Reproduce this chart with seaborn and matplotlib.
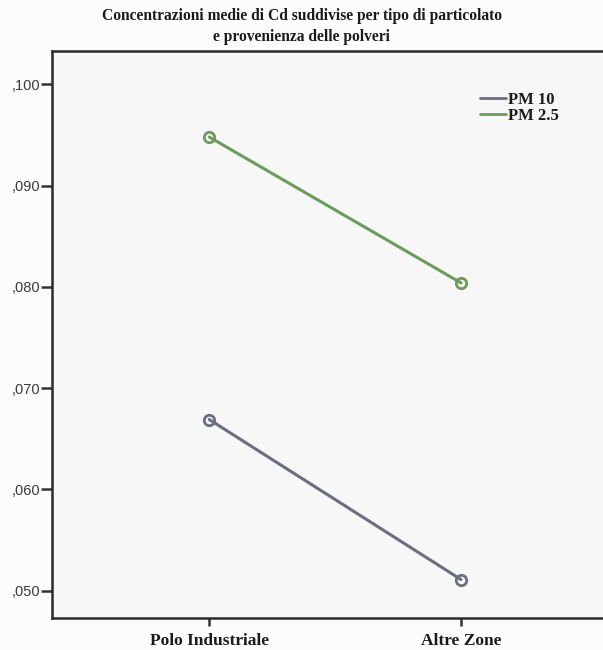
import matplotlib
matplotlib.use("Agg")
import matplotlib.pyplot as plt
from matplotlib.lines import Line2D
from matplotlib.ticker import FuncFormatter
import seaborn as sns
import pandas as pd

# Mean Cd concentrations by particulate type and area of origin
zones = ["Polo Industriale", "Altre Zone"]
pm10 = [0.0669, 0.0511]
pm25 = [0.0948, 0.0804]
series = ["PM 10", "PM 2.5"]
colors = {"PM 10": "#6a6e82", "PM 2.5": "#6b9c5c"}
yticks = [0.050, 0.060, 0.070, 0.080, 0.090, 0.100]

df = pd.DataFrame({
    "zona": zones * 2,
    "cd": pm10 + pm25,
    "tipo": [series[0]] * len(zones) + [series[1]] * len(zones),
})

sns.set_style("white")
plt.rcParams["font.family"] = ["Liberation Serif", "DejaVu Serif"]

fig = plt.figure(figsize=(6.03, 6.5), dpi=100)
fig.patch.set_facecolor("#fcfcfc")
ax = fig.add_axes([52 / 603, 32 / 650, 560 / 603, 567 / 650])
ax.set_facecolor("#f7f7f8")

sns.lineplot(
    data=df, x="zona", y="cd", hue="tipo", palette=colors,
    marker="o", markersize=7.5, markerfacecolor="none",
    markeredgewidth=2.0, linewidth=2.2, legend=False, ax=ax,
    sort=False,
)
# open circles outlined in the series colour
for ln in ax.lines:
    ln.set_markeredgecolor(ln.get_color())

ax.set_xlim(-0.625, 1.6)
ax.set_ylim(0.0473, 0.1033)
ax.set_yticks(yticks)
ax.yaxis.set_major_formatter(
    FuncFormatter(lambda v, _: f"{v:.3f}".lstrip("0").replace(".", ","))
)
for lab in ax.get_yticklabels():
    lab.set_fontfamily("Liberation Sans")
    lab.set_fontsize(10.5)
    lab.set_color("#3a3a3a")
ax.tick_params(axis="y", length=8, width=1.8, color="#333333", pad=0.5, left=True)
ax.tick_params(axis="x", length=6, width=1.8, color="#333333", pad=4.5, bottom=True)
for lab in ax.get_xticklabels():
    lab.set_fontweight("bold")
    lab.set_fontsize(12.5)
    lab.set_color("#1a1a1a")

ax.set_xlabel("")
ax.set_ylabel("")
for side in ["left", "bottom", "top"]:
    ax.spines[side].set_color("#2b2b2b")
    ax.spines[side].set_linewidth(1.8)
ax.spines["right"].set_visible(False)

handles = [Line2D([0], [0], color=colors[s], lw=2) for s in series]
leg = ax.legend(
    handles, series, loc="upper left", bbox_to_anchor=(0.752, 0.94),
    frameon=False, handlelength=1.6, handletextpad=0.1, labelspacing=0.0,
    borderaxespad=0.0,
    prop={"family": "Liberation Serif", "weight": "bold", "size": 12},
)
for t in leg.get_texts():
    t.set_color("#1a1a1a")

fig.text(
    0.500, 0.988,
    "Concentrazioni medie di Cd suddivise per tipo di particolato\n"
    "e provenienza delle polveri",
    ha="center", va="top", fontsize=11.2, fontweight="bold",
    color="#1a1a1a", linespacing=1.45,
)

fig.savefig("out.png", dpi=100, facecolor=fig.get_facecolor())
